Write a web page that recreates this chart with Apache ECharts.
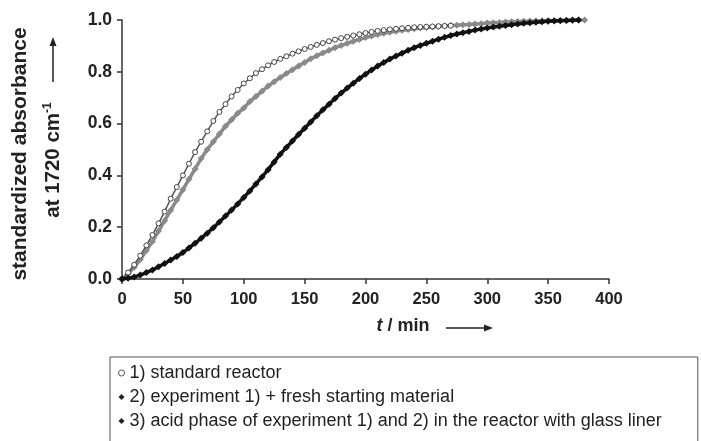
<!DOCTYPE html>
<html>
<head>
<meta charset="utf-8">
<script src="https://cdn.jsdelivr.net/npm/echarts@6/dist/echarts.min.js"></script>
<style>
  html, body { margin: 0; padding: 0; background: #fff; }
  #chart { width: 701px; height: 441px; }
</style>
</head>
<body>
<div id="chart"></div>
<script>
// time axis in minutes, one reading every 5 min
const step = 5;

// 1) standard reactor (0 .. 270 min)
const standardReactor = [
  0.0, 0.025, 0.055, 0.09, 0.13, 0.17, 0.215, 0.26, 0.31, 0.355,
  0.40, 0.445, 0.49, 0.53, 0.57, 0.61, 0.645, 0.675, 0.705, 0.73,
  0.755, 0.775, 0.795, 0.81, 0.825, 0.838, 0.85, 0.86, 0.87, 0.879,
  0.888, 0.896, 0.904, 0.911, 0.918, 0.924, 0.93, 0.935, 0.94, 0.945,
  0.95, 0.954, 0.958, 0.961, 0.964, 0.966, 0.968, 0.97, 0.972, 0.973,
  0.974, 0.975, 0.976, 0.977, 0.978
];

// 2) experiment 1) + fresh starting material (0 .. 380 min)
const freshMaterial = [
  0.0, 0.02, 0.045, 0.075, 0.11, 0.145, 0.185, 0.225, 0.265, 0.305,
  0.345, 0.385, 0.425, 0.465, 0.50, 0.53, 0.56, 0.59, 0.615, 0.64,
  0.66, 0.685, 0.705, 0.725, 0.745, 0.762, 0.778, 0.793, 0.808, 0.822,
  0.836, 0.85, 0.862, 0.873, 0.883, 0.893, 0.902, 0.91, 0.918, 0.925,
  0.932, 0.938, 0.944, 0.949, 0.953, 0.957, 0.96, 0.963, 0.966, 0.969,
  0.971, 0.973, 0.975, 0.977, 0.979, 0.98, 0.982, 0.983, 0.985, 0.986,
  0.988, 0.989, 0.99, 0.992, 0.993, 0.994, 0.995, 0.996, 0.996, 0.997,
  0.998, 0.998, 0.999, 0.999, 1.0, 1.0, 1.0
];

// 3) acid phase of experiment 1) and 2) with glass liner (0 .. 375 min)
const glassLiner = [
  0.0, 0.003, 0.008, 0.015, 0.025, 0.035, 0.047, 0.06, 0.073, 0.087,
  0.102, 0.12, 0.138, 0.157, 0.177, 0.198, 0.22, 0.243, 0.266, 0.29,
  0.315, 0.34, 0.367, 0.394, 0.422, 0.452, 0.482, 0.508, 0.533, 0.558,
  0.582, 0.606, 0.63, 0.653, 0.675, 0.697, 0.718, 0.737, 0.756, 0.774,
  0.791, 0.807, 0.822, 0.836, 0.849, 0.861, 0.872, 0.883, 0.893, 0.902,
  0.91, 0.918, 0.926, 0.933, 0.94, 0.946, 0.951, 0.956, 0.961, 0.965,
  0.969, 0.973, 0.976, 0.979, 0.982, 0.985, 0.987, 0.989, 0.991, 0.993,
  0.995, 0.996, 0.997, 0.998, 0.999, 1.0
];

const seriesNames = [
  "1) standard reactor",
  "2) experiment 1) + fresh starting material",
  "3) acid phase of experiment 1) and 2) in the reactor with glass liner"
];

const xTicks = { min: 0, max: 400, interval: 50 };
const yTicks = { min: 0, max: 1, interval: 0.2 };

function toPairs(values) {
  return values.map((v, i) => [i * step, v]);
}

const font = "Liberation Sans, Arial, sans-serif";
const ink = "#222";

const chart = echarts.init(document.getElementById("chart"));

chart.setOption({
  animation: false,
  textStyle: { fontFamily: font },
  grid: { left: 122, right: 92, top: 20, bottom: 162 },
  xAxis: {
    type: "value",
    min: xTicks.min, max: xTicks.max, interval: xTicks.interval,
    splitLine: { show: false },
    axisLine: { onZero: false, lineStyle: { color: "#333", width: 1.5 } },
    axisTick: { show: true, length: 5, lineStyle: { color: "#333", width: 1.5 } },
    axisLabel: { color: ink, fontSize: 16.5, fontWeight: "bold", margin: 12 }
  },
  yAxis: {
    type: "value",
    min: yTicks.min, max: yTicks.max, interval: yTicks.interval,
    splitLine: { show: false },
    axisLine: { show: true, lineStyle: { color: "#333", width: 1.5 } },
    axisTick: { show: true, length: 5, lineStyle: { color: "#333", width: 1.5 } },
    axisLabel: {
      color: ink, fontSize: 17.5, fontWeight: "bold", margin: 10,
      formatter: (v) => v.toFixed(1)
    }
  },
  legend: {
    orient: "vertical",
    left: 110, top: 357, height: 140,
    padding: [7, 36, 14, 8],
    itemWidth: 6, itemHeight: 6, itemGap: 6,
    borderColor: "#555", borderWidth: 1,
    textStyle: { color: ink, fontSize: 18, lineHeight: 18, fontFamily: font },
    data: [
      { name: seriesNames[0], icon: "circle",
        itemStyle: { color: "#fff", borderColor: "#555", borderWidth: 1 } },
      { name: seriesNames[1], icon: "diamond", itemStyle: { color: "#222" } },
      { name: seriesNames[2], icon: "diamond", itemStyle: { color: "#222" } }
    ]
  },
  series: [
    {
      name: seriesNames[0],
      type: "line",
      data: toPairs(standardReactor),
      symbol: "circle", symbolSize: 5, showAllSymbol: true,
      lineStyle: { color: "#555", width: 1.5 },
      itemStyle: { color: "#fff", borderColor: "#444", borderWidth: 1 },
      z: 4
    },
    {
      name: seriesNames[1],
      type: "line",
      data: toPairs(freshMaterial),
      symbol: "diamond", symbolSize: 7, showAllSymbol: true,
      lineStyle: { color: "#8a8a8a", width: 3.5 },
      itemStyle: { color: "#8a8a8a" },
      z: 3
    },
    {
      name: seriesNames[2],
      type: "line",
      data: toPairs(glassLiner),
      symbol: "diamond", symbolSize: 7, showAllSymbol: true,
      lineStyle: { color: "#111", width: 3.5 },
      itemStyle: { color: "#111" },
      z: 5
    }
  ],
  graphic: [
    {
      type: "text", x: 20, y: 154, rotation: Math.PI / 2,
      style: {
        text: "standardized absorbance", fill: ink, font: "bold 21px " + font,
        align: "center", verticalAlign: "middle"
      }
    },
    {
      type: "text", x: 53, y: 160, rotation: Math.PI / 2,
      style: {
        text: "{n|at 1720 cm}{s|-1}", fill: ink, align: "center", verticalAlign: "middle",
        rich: {
          n: { font: "bold 20.5px " + font, fill: ink },
          s: { font: "bold 12px " + font, fill: ink, verticalAlign: "top", padding: [0, 0, 11, 0] }
        }
      }
    },
    {
      type: "line", shape: { x1: 53, y1: 82, x2: 53, y2: 44 },
      style: { stroke: ink, lineWidth: 1.5 }
    },
    {
      type: "polygon", shape: { points: [[53, 37], [49.5, 46], [56.5, 46]] },
      style: { fill: ink }
    },
    {
      type: "text", x: 403, y: 326,
      style: {
        text: "{i|t}{b| / min}", align: "center", verticalAlign: "middle",
        rich: {
          i: { font: "italic bold 18px " + font, fill: ink },
          b: { font: "bold 18px " + font, fill: ink }
        }
      }
    },
    {
      type: "line", shape: { x1: 446, y1: 328, x2: 486, y2: 328 },
      style: { stroke: ink, lineWidth: 1.5 }
    },
    {
      type: "polygon", shape: { points: [[493, 328], [484, 324.5], [484, 331.5]] },
      style: { fill: ink }
    }
  ]
});
</script>
</body>
</html>
